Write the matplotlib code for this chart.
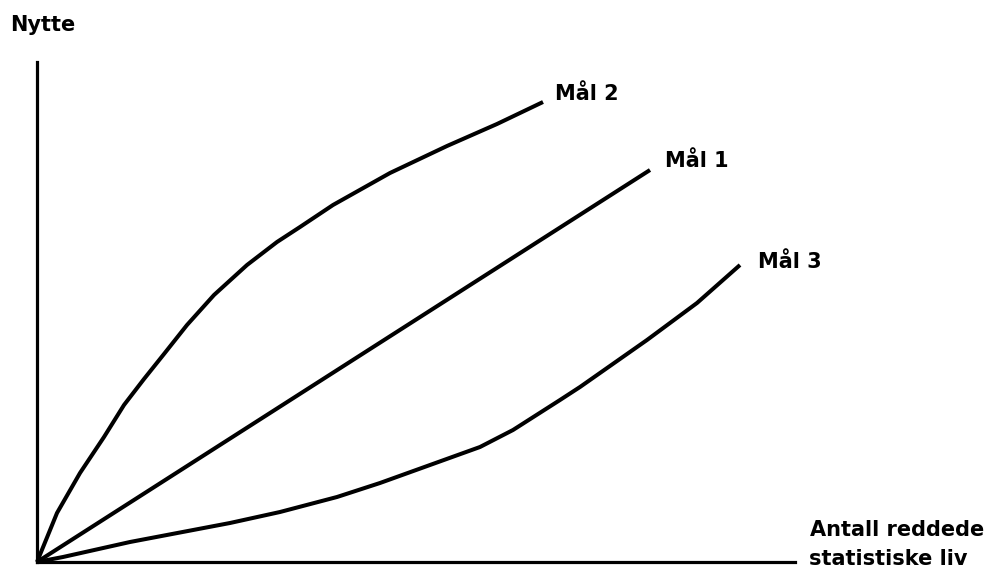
import matplotlib
matplotlib.use("Agg")
import matplotlib.pyplot as plt

# Data (x: saved lives, y: utility), arbitrary units
mal1_x = [0, 613]
mal1_y = [0, 392]

mal2_x = [0, 20, 43, 67, 87, 107, 127, 150, 177, 210, 240, 263, 296, 353, 410, 460, 506]
mal2_y = [0, 49, 89, 125, 157, 183, 208, 237, 267, 297, 320, 335, 357, 389, 416, 438, 460]

mal3_x = [0, 26, 93, 193, 243, 300, 343, 393, 443, 476, 523, 543, 610, 660, 703]
mal3_y = [0, 5, 20, 39, 50, 65, 79, 97, 115, 132, 162, 175, 222, 259, 297]

series_labels = ["Mål 1", "Mål 2", "Mål 3"]
y_label = "Nytte"
x_label_lines = ["Antall reddede", "statistiske liv"]

W, H = 997, 565
fig = plt.figure(figsize=(W / 100, H / 100), dpi=100)
ax = fig.add_axes([0, 0, 1, 1])
ax.set_xlim(-37, W - 37)
ax.set_ylim(562 - H, 562)

lw = 2.9
for xs, ys in [(mal1_x, mal1_y), (mal2_x, mal2_y), (mal3_x, mal3_y)]:
    ax.plot(xs, ys, color="black", lw=lw, solid_capstyle="butt", solid_joinstyle="round")

for s in ["top", "right"]:
    ax.spines[s].set_visible(False)
ax.spines["left"].set_position(("data", 0))
ax.spines["bottom"].set_position(("data", 0))
ax.spines["left"].set_bounds(0, 500)
ax.spines["bottom"].set_bounds(0, 758)
ax.spines["left"].set_linewidth(2.3)
ax.spines["bottom"].set_linewidth(2.3)
ax.set_xticks([])
ax.set_yticks([])
ax.patch.set_visible(False)

font = dict(family=["DejaVu Sans"], weight="bold", fontsize=15, color="black")
ax.text(628, 395, series_labels[0], ha="left", va="baseline", **font)
ax.text(518, 462, series_labels[1], ha="left", va="baseline", **font)
ax.text(721, 294, series_labels[2], ha="left", va="baseline", **font)
ax.text(-27, 531, y_label, ha="left", va="baseline", **font)
ax.text(773, 26, x_label_lines[0], ha="left", va="baseline", **font)
ax.text(772, -3, x_label_lines[1], ha="left", va="baseline", **font)

fig.savefig("out.png", dpi=100)
